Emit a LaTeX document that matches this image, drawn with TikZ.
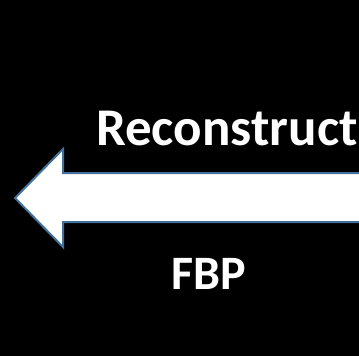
\documentclass[tikz,border=0pt]{standalone}
\usepackage{fontspec}
\setmainfont{Carlito}
\definecolor{arrowedge}{HTML}{41719C}
\begin{document}
\begin{tikzpicture}[x=1pt,y=-1pt,
  lbl/.style={text=white,inner sep=0pt,anchor=base west}]
\fill[black] (0,0) rectangle (359,356);
\useasboundingbox (0,0) rectangle (359,356);
\begin{scope}
\clip (0,0) rectangle (359,356);
\draw[arrowedge,line width=2pt,fill=white,line join=miter]
  (15,198) -- (63,149) -- (63,173) -- (390,173) -- (390,222) -- (63,222) -- (63,247) -- cycle;
\end{scope}
\node[lbl,font=\bfseries\fontsize{53}{53}\selectfont] (rec) at (96,145) {Reconstruct};
\node[lbl,font=\bfseries\fontsize{48}{48}\selectfont] (fbp) at (171,289) {FBP};
\end{tikzpicture}
\end{document}
